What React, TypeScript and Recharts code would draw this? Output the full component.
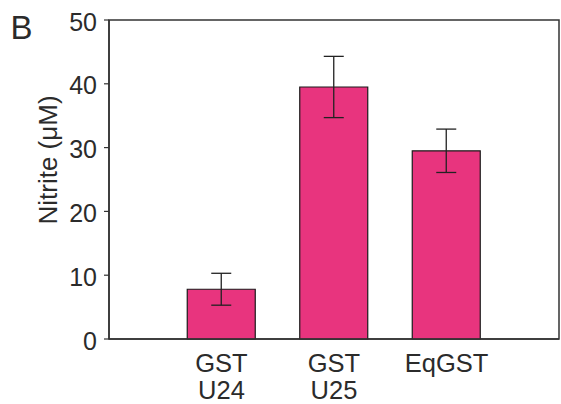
import React from 'react';
import { BarChart, Bar, XAxis, YAxis, ErrorBar, ReferenceArea } from 'recharts';

const categoriesLine1 = ['GST', 'GST', 'EqGST'];
const categoriesLine2 = ['U24', 'U25', ''];
const positions = [1, 2, 3];
const nitrite = [7.8, 39.5, 29.5];
const errors = [2.5, 4.8, 3.4];
const yTicks = [0, 10, 20, 30, 40, 50];

const data = positions.map((p, i) => ({ x: p, v: nitrite[i], err: errors[i] }));

const FONT = '"Liberation Sans", Arial, sans-serif';
const TXT = '#2b2b2b';

const YTick = (props: any) => {
  const { x, y, payload } = props;
  return (
    <text x={x} y={y + 10.5} textAnchor="end" fontFamily={FONT} fontSize={25} fill={TXT}>
      {payload.value}
    </text>
  );
};

const XTick = (props: any) => {
  const { x, y, payload } = props;
  const i = positions.indexOf(payload.value);
  if (i < 0) return null;
  return (
    <g>
      <text x={x} y={y + 32.5} textAnchor="middle" fontFamily={FONT} fontSize={25.5} fill={TXT}>
        {categoriesLine1[i]}
      </text>
      {categoriesLine2[i] ? (
        <text x={x} y={y + 59.5} textAnchor="middle" fontFamily={FONT} fontSize={25.5} fill={TXT}>
          {categoriesLine2[i]}
        </text>
      ) : null}
    </g>
  );
};

export default function App() {
  return (
    <div style={{ position: 'absolute', left: 0, top: 0, width: 561, height: 404, background: '#fff' }}>
      <BarChart width={561} height={404} data={data} margin={{ top: 20, right: 2, bottom: 0, left: 0 }}>
        <XAxis
          dataKey="x"
          type="number"
          domain={[0, 4]}
          ticks={positions}
          interval={0}
          tickLine={false}
          tickSize={0}
          tickMargin={0}
          height={65}
          axisLine={{ stroke: '#333', strokeWidth: 1.5 }}
          tick={<XTick />}
        />
        <YAxis
          type="number"
          domain={[0, 50]}
          ticks={yTicks}
          width={109}
          tickSize={5}
          tickMargin={7}
          tickLine={{ stroke: '#333', strokeWidth: 1.2 }}
          axisLine={{ stroke: '#333', strokeWidth: 1.5 }}
          tick={<YTick />}
        />
        <ReferenceArea x1={0} x2={4} y1={0} y2={50} fill="none" stroke="#333" strokeWidth={1.5} ifOverflow="visible" />
        <Bar dataKey="v" fill="#E8347E" stroke="#1a1a1a" strokeWidth={1.2} barSize={68} isAnimationActive={false}>
          <ErrorBar dataKey="err" width={10} stroke="#222" strokeWidth={1.3} direction="y" />
        </Bar>
      </BarChart>
      <svg width={561} height={404} style={{ position: 'absolute', left: 0, top: 0, pointerEvents: 'none' }}>
        <text x={10.5} y={39} fontFamily={FONT} fontSize={33} fill={TXT}>B</text>
        <text
          x={57}
          y={160}
          textAnchor="middle"
          transform="rotate(-90, 57, 160)"
          fontFamily={FONT}
          fontSize={26}
          fill={TXT}
        >
          Nitrite (μM)
        </text>
      </svg>
    </div>
  );
}
